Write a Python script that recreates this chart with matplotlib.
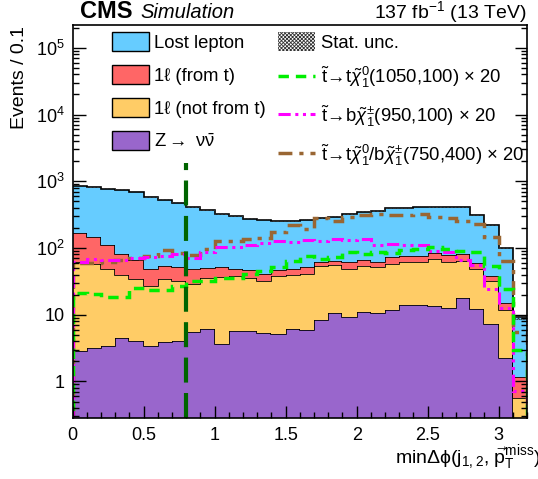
import numpy as np
import matplotlib
matplotlib.use('Agg')
import matplotlib.pyplot as plt
from matplotlib.patches import Patch
from matplotlib.lines import Line2D
from matplotlib.ticker import MultipleLocator, FixedLocator, FixedFormatter, LogLocator, FuncFormatter

plt.rcParams['font.family'] = ['Liberation Sans', 'DejaVu Sans']
plt.rcParams['mathtext.fontset'] = 'custom'
plt.rcParams['mathtext.rm'] = 'Liberation Sans'
plt.rcParams['mathtext.it'] = 'Liberation Sans:italic'
plt.rcParams['mathtext.bf'] = 'Liberation Sans:bold'
plt.rcParams['mathtext.sf'] = 'Liberation Sans'
plt.rcParams['hatch.linewidth'] = 0.6

# binning: min delta phi, 0.1 wide bins
edges = np.linspace(0, 3.2, 33)

# backgrounds (events / bin)
z_nunu = [2.9, 3.2, 3.35, 4.4, 4.1, 3.4, 3.85, 4.0, 5.5, 6.2, 3.6, 5.6, 5.6, 5.4, 5.1, 6.2,
          5.9, 8.2, 10.7, 9.1, 11.1, 10.6, 11.9, 14.0, 14.0, 13.4, 12.6, 17.6, 12.0, 7.25, 2.24, 0.0]
onel_not_t = [59.1, 53.8, 44.6, 35.6, 29.9, 23.6, 30.1, 28.0, 23.5, 29.8, 33.4, 32.4, 29.4, 26.6, 32.9, 33.8,
              35.1, 45.8, 44.3, 39.9, 42.9, 40.4, 46.1, 48.0, 48.0, 54.5, 49.4, 46.9, 36.0, 24.4, 9.4, 0.56]
onel_t = [104, 87, 63, 42, 31, 21, 19, 19, 20, 14, 15, 10, 11, 9, 8, 9,
          11, 8, 8, 13, 13, 10, 15, 14, 14, 15, 17, 16.5, 11, 6.9, 3.2, 0.59]
lost_lep = [694, 666, 664, 663, 625, 532, 472, 422, 363, 317, 272, 254, 229, 225, 205, 202,
            214, 220, 232, 258, 284, 298, 320, 317, 339, 329, 329, 327, 249, 180, 86, 8.05]
# relative stat. uncertainty on total background
stat_rel = [0.015, 0.015, 0.015, 0.015, 0.016, 0.017, 0.018, 0.018, 0.02, 0.02, 0.021, 0.022, 0.022, 0.023, 0.024, 0.024,
            0.024, 0.023, 0.023, 0.022, 0.021, 0.021, 0.02, 0.02, 0.02, 0.02, 0.02, 0.02, 0.023, 0.027, 0.04, 0.08]

# signals (x 20)
sig_t = [21, 20.6, 18.4, 18.4, 25, 23.7, 23.7, 26.6, 32, 31.6, 36, 36, 41, 44.7, 52, 64.5,
         77, 68, 74, 86, 81, 86, 84, 94, 98, 102, 98, 91, 87, 54, 24.5, 3.0]
sig_b = [62, 68, 65, 67, 71, 73, 77, 81, 72, 86, 102, 102, 110, 119, 129, 123,
         133, 126, 138, 130, 136, 111, 115, 112, 112, 91, 87, 65, 56, 24.5, 12.6, 0.71]
sig_tb = [60, 60, 62, 66, 70, 75, 94, 84, 79, 98, 126, 126, 136, 141, 172, 224,
          195, 282, 251, 292, 316, 327, 316, 316, 324, 295, 282, 257, 230, 145, 63, 5.5]

bkg_labels = ['Lost lepton', '1ℓ (from t)', '1ℓ (not from t)', r'Z$\rightarrow$ $\mathrm{\nu\bar{\nu}}$']
sig_labels = [r'$\tilde{\rm t}\!\rightarrow\!{\rm t}\tilde{\chi}_{1}^{0}$(1050,100) $\times$ 20',
              r'$\tilde{\rm t}\!\rightarrow\!{\rm b}\tilde{\chi}_{1}^{\pm}$(950,100) $\times$ 20',
              r'$\tilde{\rm t}\!\rightarrow\!{\rm t}\tilde{\chi}_{1}^{0}$/b$\tilde{\chi}_{1}^{\pm}$(750,400) $\times$ 20']

c_lost = '#66ccff'
c_t = '#ff6666'
c_nt = '#ffcc66'
c_z = '#9966cc'
hatch = 'x' * 9

fig = plt.figure(figsize=(5.38, 4.79), dpi=100)
ax = fig.add_axes([72.7 / 538, 1 - 418.3 / 479, (527 - 72.7) / 538, (418.3 - 25) / 479])
ax.set_yscale('log')

bottom = np.full(len(edges) - 1, 1e-3)
for vals, col in [(z_nunu, c_z), (onel_not_t, c_nt), (onel_t, c_t), (lost_lep, c_lost)]:
    top = bottom + np.array(vals)
    ax.stairs(top, edges, baseline=bottom, fill=True, color=col, lw=0)
    ax.stairs(top, edges, baseline=None, color='k', lw=1.2)
    bottom = top

tot = bottom
unc = tot * np.array(stat_rel)
ax.stairs(tot + unc, edges, baseline=tot - unc, fill=True, facecolor='none',
          edgecolor='#333333', hatch=hatch, lw=0)

ax.stairs(sig_tb, edges, baseline=1e-3, color='#996633', lw=2.5, linestyle=(0, (4, 2, 1.2, 2)))
ax.stairs(sig_b, edges, baseline=1e-3, color='#ff00ff', lw=2.2, linestyle=(0, (4, 1.5, 1, 1.5, 1, 1.5)))
ax.stairs(sig_t, edges, baseline=1e-3, color='#00ee00', lw=2.5, linestyle=(0, (3, 2)))

# minDphi cut
ax.plot([0.8, 0.8], [0.28, 1900], color='#006400', lw=3, dashes=(6, 2.5))

ax.set_xlim(0, 3.2)
ax.set_ylim(0.28, 2.2e5)
ax.xaxis.set_major_locator(MultipleLocator(0.5))
ax.xaxis.set_minor_locator(MultipleLocator(0.1))
ax.xaxis.set_major_formatter(FuncFormatter(lambda v, p: '%g' % v))
ax.yaxis.set_major_locator(FixedLocator([1, 10, 100, 1e3, 1e4, 1e5]))
ax.yaxis.set_major_formatter(FixedFormatter(['1', '10', r'10$^{2}$', r'10$^{3}$', r'10$^{4}$', r'10$^{5}$']))
ax.yaxis.set_minor_locator(LogLocator(base=10, subs=np.arange(2, 10), numticks=20))
ax.tick_params(which='both', direction='in', right=True, labelsize=13, width=1)
ax.tick_params(which='major', length=9, pad=6)
ax.tick_params(which='minor', length=4.5)
for s in ax.spines.values():
    s.set_linewidth(1.2)

handles = [Patch(facecolor=c, edgecolor='k', lw=1) for c in [c_lost, c_t, c_nt, c_z]]
handles.append(Patch(facecolor='white', edgecolor='#333333', hatch=hatch, lw=0))
handles.append(Line2D([], [], color='#00ee00', lw=2.5, linestyle=(0, (3, 2))))
handles.append(Line2D([], [], color='#ff00ff', lw=2.2, linestyle=(0, (4, 1.5, 1, 1.5, 1, 1.5))))
handles.append(Line2D([], [], color='#996633', lw=2.5, linestyle=(0, (4, 2, 1.2, 2))))
labels = bkg_labels + ['Stat. unc.'] + sig_labels
fig.legend(handles, labels, ncol=2, loc='upper left', bbox_to_anchor=(112 / 538, 1 - 32 / 479),
           frameon=False, fontsize=13.3, handlelength=2.0, handleheight=1.2, handletextpad=0.3,
           labelspacing=0.72, columnspacing=0.65, borderpad=0, borderaxespad=0)

fig.text(80 / 538, 1 - 18 / 479, 'CMS', weight='bold', fontsize=17, va='baseline')
fig.text(140 / 538, 1 - 18 / 479, 'Simulation', style='italic', fontsize=14.5, va='baseline')
fig.text(527 / 538, 1 - 18 / 479, r'137 fb$^{-1}$ (13 TeV)', fontsize=14, ha='right', va='baseline')
fig.text(20 / 538, 1 - 26 / 479, 'Events / 0.1', rotation=90, fontsize=14, ha='center', va='top')
fig.text(395 / 538, 1 - 458 / 479, r'min$\mathrm{\Delta\phi}$(j$_{1,2}$, $\vec{\rm p}_{\rm T}^{\rm miss}$)',
         fontsize=14, ha='left', va='center')

fig.savefig('out.png', dpi=100)
